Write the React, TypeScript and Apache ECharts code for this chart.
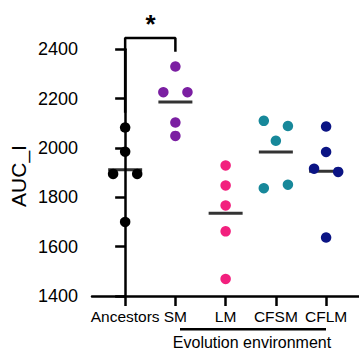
import React, { useEffect, useRef } from "react";
import * as echarts from "echarts";

const categories = ["Ancestors", "SM", "LM", "CFSM", "CFLM"];
const ancestors = [2083, 1985, 1895, 1895, 1700];
const sm = [2330, 2226, 2226, 2103, 2049];
const lm = [1929, 1848, 1767, 1662, 1469];
const cfsm = [2110, 2089, 2029, 1837, 1851];
const cflm = [2087, 1984, 1916, 1903, 1637];
const groups = [ancestors, sm, lm, cfsm, cflm];
const colors = ["#000000", "#7b1fa2", "#f2207e", "#17889a", "#0b1484"];
const yMin = 1400;
const yMax = 2400;
const yStep = 200;
const yTitle = "AUC_I";
const xTitle = "Evolution environment";
const sigLabel = "*";

const FONT = "'Liberation Sans', Arial, Helvetica, sans-serif";

function jitter(values: number[]): number[] {
  const idx = values.map((v, i) => i).sort((a, b) => values[b] - values[a]);
  const offsets = new Array(values.length).fill(0);
  let i = 0;
  while (i < idx.length) {
    let j = i + 1;
    while (j < idx.length && values[idx[j - 1]] - values[idx[j]] < 40) j++;
    const cluster = idx.slice(i, j).sort((a, b) => a - b);
    const n = cluster.length;
    cluster.forEach((k, m) => {
      offsets[k] = n === 1 ? 0 : -0.24 + (0.48 * m) / (n - 1);
    });
    i = j;
  }
  return offsets;
}

const mean = (a: number[]) => a.reduce((s, v) => s + v, 0) / a.length;

export default function App() {
  const ref = useRef<HTMLDivElement>(null);
  useEffect(() => {
    document.body.style.margin = "0";
    const chart = echarts.init(ref.current!, null, { renderer: "svg" });
    const dotSeries = groups.map((vals, gi) => {
      const off = jitter(vals);
      return {
        type: "scatter",
        name: categories[gi],
        data: vals.map((v, k) => [gi + off[k], v]),
        symbolSize: 10.5,
        itemStyle: { color: colors[gi], opacity: 1 },
        z: 3,
      };
    });
    const meanSeries = {
      type: "scatter",
      data: groups.map((vals, gi) => [gi, mean(vals)]),
      symbol: "rect",
      symbolSize: [34, 3],
      itemStyle: { color: "#000" },
      z: 2,
    };
    const topB = Math.max(...sm) + 116;
    const bracket = {
      type: "line",
      data: [
        [0, Math.max(...ancestors) + 60],
        [0, topB],
        [1, topB],
        [1, Math.max(...sm) + 60],
      ],
      symbol: "none",
      clip: false,
      lineStyle: { color: "#000", width: 2.5 },
      z: 1,
    };
    chart.setOption({
      animation: false,
      grid: { left: 92, right: 0, top: 49.3, bottom: 55 },
      xAxis: {
        type: "value",
        min: -0.66,
        max: 4.655,
        splitLine: { show: false },
        axisLine: { onZero: false, lineStyle: { color: "#000", width: 2.5 } },
        axisTick: {
          show: true,
          customValues: [0, 1, 2, 3, 4],
          length: 10,
          lineStyle: { color: "#000", width: 2.5 },
        },
        axisLabel: {
          customValues: [0, 1, 2, 3, 4],
          formatter: (v: number) => categories[Math.round(v)],
          color: "#000",
          fontSize: 15.5,
          fontFamily: FONT,
          margin: 12,
        },
      },
      yAxis: {
        type: "value",
        min: yMin,
        max: yMax,
        interval: yStep,
        splitLine: { show: false },
        axisLine: { show: true, lineStyle: { color: "#000", width: 2.5 } },
        axisTick: { show: true, length: 10, lineStyle: { color: "#000", width: 2.5 } },
        axisLabel: {
          formatter: (v: number) => String(v),
          color: "#000",
          fontSize: 18,
          fontFamily: FONT,
          margin: 14,
        },
      },
      graphic: [
        {
          type: "text",
          x: 18,
          y: 176,
          rotation: Math.PI / 2,
          style: {
            text: yTitle,
            font: `21px ${FONT}`,
            fill: "#000",
            align: "center",
            verticalAlign: "middle",
          },
        },
        {
          type: "text",
          x: 150.5,
          y: 24,
          style: {
            text: sigLabel,
            font: `bold 26px ${FONT}`,
            fill: "#000",
            align: "center",
            verticalAlign: "middle",
          },
        },
        {
          type: "line",
          shape: { x1: 180, y1: 329.3, x2: 326, y2: 329.3 },
          style: { stroke: "#000", lineWidth: 2.5 },
        },
        {
          type: "text",
          x: 252,
          y: 342,
          style: {
            text: xTitle,
            font: `16px ${FONT}`,
            fill: "#000",
            align: "center",
            verticalAlign: "middle",
          },
        },
      ],
      series: [bracket, meanSeries, ...dotSeries],
    });
    return () => chart.dispose();
  }, []);
  return <div ref={ref} style={{ width: 359, height: 351 }} />;
}
